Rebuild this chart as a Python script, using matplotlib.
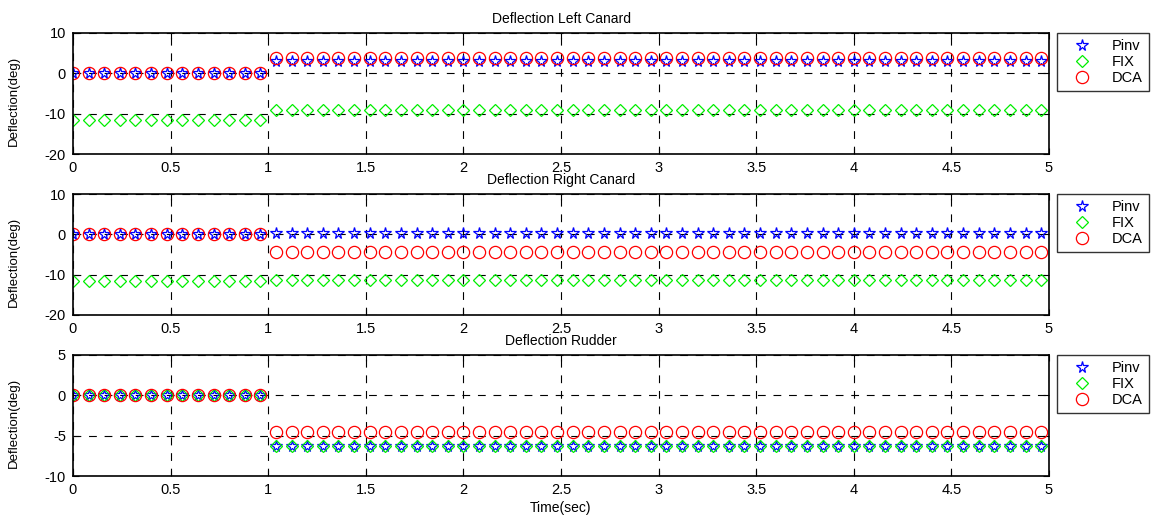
import numpy as np
import matplotlib
matplotlib.use("Agg")
import matplotlib.pyplot as plt

plt.rcParams['font.family'] = ['Liberation Sans', 'DejaVu Sans']
plt.rcParams['axes.unicode_minus'] = False

#   Sample times (step 0.08 s) and switch time
t = np.round(np.arange(0, 5, 0.08), 2)
tSwitch = 1.0

titles = ["Deflection Left Canard", "Deflection Right Canard", "Deflection Rudder"]
seriesNames = ["Pinv", "FIX", "DCA"]

#   Levels: (before 1 s, after 1 s)
pinvLevels = [(0, 3.0), (0, 0.4), (0, -6.3)]
fixLevels = [(-11.5, -9.0), (-11.5, -11.2), (0, -6.3)]
dcaLevels = [(0, 3.9), (0, -4.3), (0, -4.6)]

yLims = [(-20, 10), (-20, 10), (-10, 5)]
yTicks = [[-20, -10, 0, 10], [-20, -10, 0, 10], [-10, -5, 0, 5]]
xTicks = [0, 0.5, 1, 1.5, 2, 2.5, 3, 3.5, 4, 4.5, 5]
xTickLabels = ["0", "0.5", "1", "1.5", "2", "2.5", "3", "3.5", "4", "4.5", "5"]

styles = [dict(marker='*', color='blue', ms=8.5),
          dict(marker='D', color='#00ee00', ms=6.5),
          dict(marker='o', color='red', ms=8.8)]

fig = plt.figure(figsize=(11.54, 5.2), dpi=100)
W, H = 1154.0, 520.0
panelTops = [33, 194, 355]
panelH = 121
left, right = 73, 1049

for p in range(3):
    ax = fig.add_axes([left / W, 1 - (panelTops[p] + panelH) / H,
                       (right - left) / W, panelH / H])
    levels = [pinvLevels[p], fixLevels[p], dcaLevels[p]]
    for s in range(3):
        y = np.where(t < tSwitch, levels[s][0], levels[s][1])
        ax.plot(t, y, linestyle='none', mfc='none', mec=styles[s]['color'],
                marker=styles[s]['marker'], markersize=styles[s]['ms'],
                markeredgewidth=0.9, label=seriesNames[s])
    ax.set_xlim(0, 5)
    ax.set_ylim(*yLims[p])
    ax.set_yticks(yTicks[p])
    ax.set_xticks(xTicks)
    ax.set_xticklabels(xTickLabels)
    ax.grid(True, color='black', linestyle=(0, (7, 7)), linewidth=0.8)
    ax.tick_params(direction='in', labelsize=10.5, length=4, top=True, right=True, pad=5)
    for sp in ax.spines.values():
        sp.set_linewidth(1.2)
    ax.set_title(titles[p], fontsize=10, pad=7)
    leg = ax.legend(loc='upper left', bbox_to_anchor=(1.008, 1.0), fontsize=10.5,
                    frameon=True, fancybox=False, edgecolor='black',
                    borderaxespad=0, handletextpad=0.8, labelspacing=0.15,
                    borderpad=0.4, handlelength=2.6)
    leg.get_frame().set_linewidth(1.0)
    fig.text(14 / W, 1 - (panelTops[p] + 68) / H, "Deflection(deg)", fontsize=9.5,
             rotation=90, ha='center', va='center')
    if p == 2:
        ax.set_xlabel("Time(sec)", fontsize=10, labelpad=3)

fig.savefig("out.png", dpi=100)
